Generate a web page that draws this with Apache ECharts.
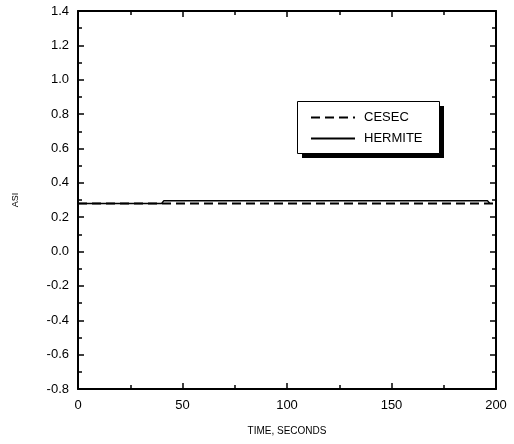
<!DOCTYPE html>
<html><head><meta charset="utf-8">
<script src="https://cdn.jsdelivr.net/npm/echarts@6/dist/echarts.min.js"></script>
<style>html,body{margin:0;padding:0;background:#fff}#c{width:514px;height:444px}</style>
</head><body><div id="c"></div>
<script>
const cesecTime = [0, 200];
const cesecAsi = [0.28, 0.28];
const hermiteTime = [0, 40, 41, 196, 197];
const hermiteAsi = [0.28, 0.28, 0.295, 0.295, 0.28];
const xTicks = [0, 50, 100, 150, 200];
const yTicks = [-0.8, -0.6, -0.4, -0.2, 0.0, 0.2, 0.4, 0.6, 0.8, 1.0, 1.2, 1.4];
const seriesNames = ['CESEC', 'HERMITE'];

const font = 'Liberation Sans, Arial, sans-serif';
const chart = echarts.init(document.getElementById('c'));
const axisCommon = {
  axisLine: {show: true, onZero: false, lineStyle: {color: '#000', width: 2}},
  axisTick: {show: true, inside: true, length: 6, lineStyle: {color: '#000', width: 1.5}},
  minorTick: {show: true, splitNumber: 2, length: 4, lineStyle: {color: '#000', width: 1.5}},
  splitLine: {show: false}
};
chart.setOption({
  animation: false,
  backgroundColor: '#fff',
  grid: {left: 78, right: 18, top: 11, bottom: 55},
  graphic: [
    {type: 'rect', z: 5, shape: {x: 302, y: 106, width: 142, height: 52}, style: {fill: '#000'}},
    {type: 'rect', z: 6, shape: {x: 297.5, y: 101.5, width: 142, height: 52}, style: {fill: '#fff', stroke: '#000', lineWidth: 1}}
  ],
  legend: {
    z: 10,
    data: seriesNames,
    orient: 'vertical',
    left: 310, top: 111,
    padding: 0,
    itemGap: 8,
    itemWidth: 44, itemHeight: 12,
    itemStyle: {opacity: 0},
    textStyle: {fontFamily: font, fontSize: 13, color: '#000', padding: [0, 0, 0, 4]}
  },
  xAxis: [
    Object.assign({type: 'value', min: xTicks[0], max: xTicks[xTicks.length - 1], interval: 50, position: 'bottom',
      name: 'TIME, SECONDS', nameLocation: 'middle', nameGap: 37,
      nameTextStyle: {fontFamily: font, fontSize: 10, color: '#000'},
      axisLabel: {fontFamily: font, fontSize: 13, color: '#000', margin: 10}}, axisCommon),
    Object.assign({type: 'value', min: 0, max: 200, interval: 50, position: 'top', axisLabel: {show: false}}, axisCommon)
  ],
  yAxis: [
    Object.assign({type: 'value', min: yTicks[0], max: yTicks[yTicks.length - 1], interval: 0.2, position: 'left',
      name: 'ASI', nameLocation: 'middle', nameGap: 58, nameRotate: 90,
      nameTextStyle: {fontFamily: font, fontSize: 9, color: '#000'},
      axisLabel: {fontFamily: font, fontSize: 13, color: '#000', margin: 9, formatter: v => v.toFixed(1)}}, axisCommon),
    Object.assign({type: 'value', min: -0.8, max: 1.4, interval: 0.2, position: 'right', axisLabel: {show: false}}, axisCommon)
  ],
  series: [
    {name: seriesNames[0], type: 'line', symbol: 'none', xAxisIndex: 0, yAxisIndex: 0,
      data: cesecTime.map((t, i) => [t, cesecAsi[i]]),
      lineStyle: {color: '#000', width: 2, type: [9, 5]}, itemStyle: {color: '#000'}},
    {name: seriesNames[1], type: 'line', symbol: 'none', xAxisIndex: 0, yAxisIndex: 0,
      data: hermiteTime.map((t, i) => [t, hermiteAsi[i]]),
      lineStyle: {color: '#000', width: 1.5}, itemStyle: {color: '#000'}}
  ]
});
</script></body></html>
